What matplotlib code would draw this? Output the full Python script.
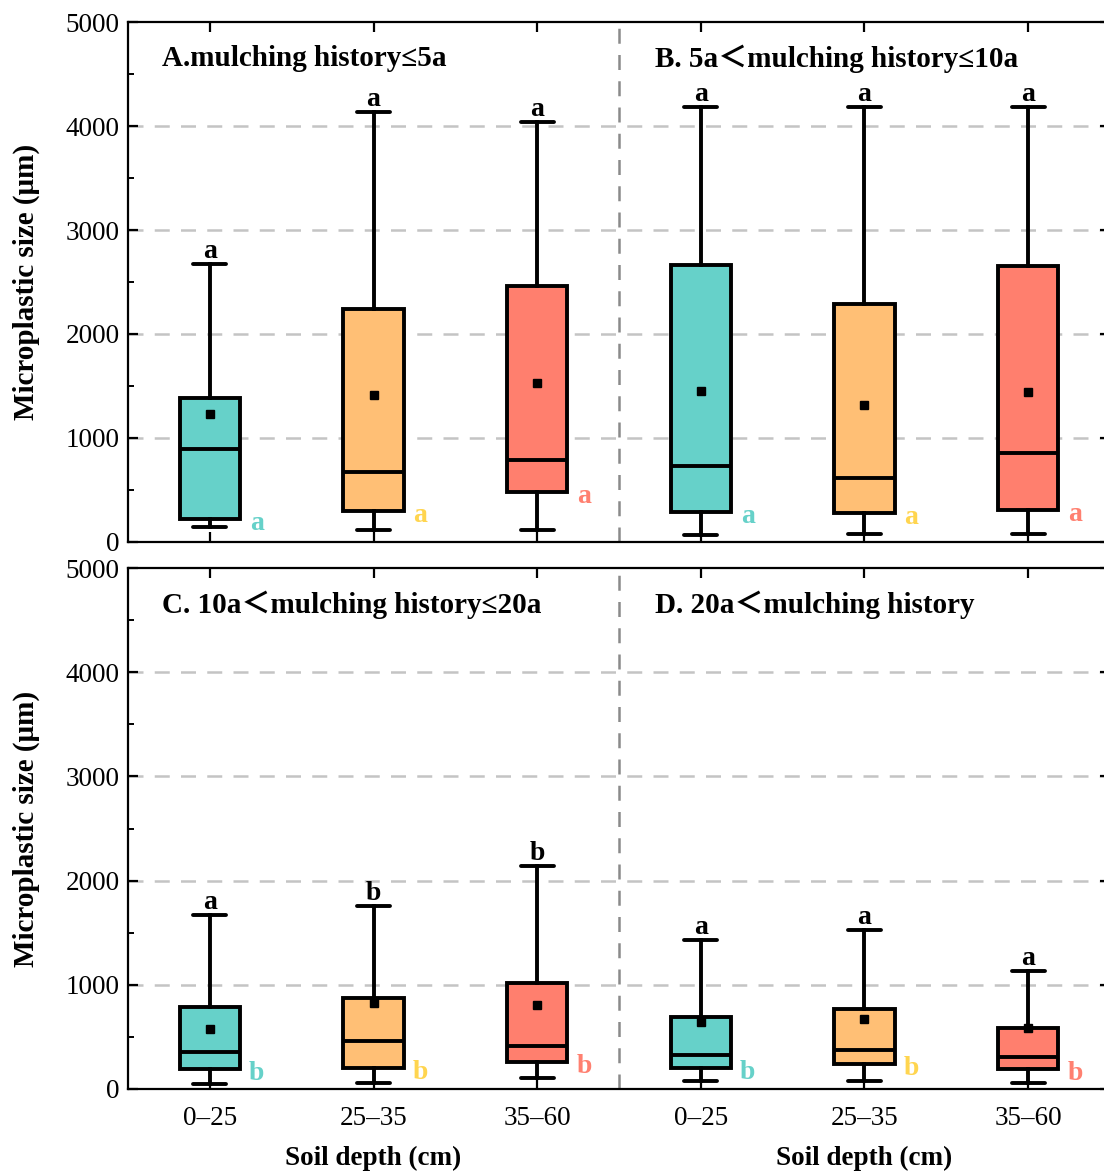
import matplotlib
matplotlib.use("Agg")
import matplotlib.pyplot as plt
from matplotlib.ticker import MultipleLocator

plt.rcParams['font.family'] = ['Liberation Serif', 'Noto Sans CJK SC', 'DejaVu Serif']
plt.rcParams['mathtext.fontset'] = 'stix'

depths = ["0\u201325", "25\u201335", "35\u201360"]
colors = ["#66D1C9", "#FFBF75", "#FF7F6E"]
letter_colors = ["#66D1C9", "#FFD54F", "#FF8070"]

# Panels A & B (top row): six boxes (A: 0-25, 25-35, 35-60; B: same)
top_whislo = [144, 115, 115, 67, 77, 77]
top_q1     = [221, 298, 481, 288, 279, 308]
top_med    = [894, 673, 788, 731, 615, 856]
top_q3     = [1385, 2240, 2462, 2663, 2288, 2654]
top_whishi = [2673, 4135, 4038, 4183, 4183, 4183]
top_mean   = [1231, 1413, 1529, 1452, 1317, 1442]
top_letters_upper = ["a", "a", "a", "a", "a", "a"]
top_letters_side  = ["a", "a", "a", "a", "a", "a"]

# Panels C & D (bottom row)
bot_whislo = [48, 58, 106, 77, 77, 58]
bot_q1     = [192, 202, 259, 202, 240, 192]
bot_med    = [355, 461, 413, 326, 374, 307]
bot_q3     = [787, 873, 1017, 691, 768, 585]
bot_whishi = [1670, 1756, 2140, 1430, 1526, 1132]
bot_mean   = [576, 825, 806, 643, 672, 585]
bot_letters_upper = ["a", "b", "b", "a", "a", "a"]
bot_letters_side  = ["b", "b", "b", "b", "b", "b"]

titles_top = ["A.mulching history\u22645a", "B. 5a\uff1cmulching history\u226410a"]
titles_bot = ["C. 10a\uff1cmulching history\u226420a", "D. 20a\uff1cmulching history"]

fig = plt.figure(figsize=(11.04, 11.71), dpi=100)
W, H = 1104, 1171
AXW = 982
ax_top = fig.add_axes([128 / W, 1 - 542 / H, AXW / W, 520 / H])
ax_bot = fig.add_axes([128 / W, 1 - 1089 / H, AXW / W, 521 / H])

positions = [1, 2, 3, 4, 5, 6]


def draw(ax, wl, q1, med, q3, wh, mean, up, side, titles, show_xlabels):
    stats = []
    for i in range(6):
        stats.append(dict(whislo=wl[i], q1=q1[i], med=med[i], q3=q3[i],
                          whishi=wh[i], mean=mean[i], fliers=[]))
    lw = 2.8
    bp = ax.bxp(stats, positions=positions, widths=0.37, patch_artist=True,
                showmeans=True, showfliers=False, capwidths=0.2,
                boxprops=dict(linewidth=lw, edgecolor='black'),
                whiskerprops=dict(linewidth=lw, color='black'),
                capprops=dict(linewidth=lw, color='black', solid_capstyle='round'),
                medianprops=dict(linewidth=lw, color='black'),
                meanprops=dict(marker='s', markerfacecolor='black',
                               markeredgecolor='black', markersize=6))
    for i, patch in enumerate(bp['boxes']):
        patch.set_facecolor(colors[i % 3])
        patch.set_zorder(3)
    for k in ('whiskers', 'caps', 'medians'):
        for l in bp[k]:
            l.set_zorder(4)
    for l in bp['means']:
        l.set_zorder(5)
    for i in range(6):
        ax.annotate(up[i], (positions[i], wh[i]), xytext=(0, 0),
                    textcoords='offset points', ha='center', va='bottom',
                    fontsize=20, fontweight='bold', color='black')
        ax.annotate(side[i], (positions[i] + 0.185, q1[i]), xytext=(12, -3),
                    textcoords='offset points', ha='center', va='center',
                    fontsize=20, fontweight='bold', color=letter_colors[i % 3])
    ax.set_xlim(0.5, 6.5)
    ax.set_ylim(0, 5000)
    ax.set_yticks([0, 1000, 2000, 3000, 4000, 5000])
    ax.yaxis.set_minor_locator(MultipleLocator(500))
    for y in [1000, 2000, 3000, 4000]:
        ax.axhline(y, color='#C4C4C4', lw=1.8, ls=(0, (6, 4.5)), zorder=1)
    ax.axvline(3.5, color='#8A8A8A', lw=1.8, ls=(0, (6, 4.5)), zorder=1)
    ax.set_xticks(positions)
    if show_xlabels:
        ax.set_xticklabels(depths * 2)
    else:
        ax.set_xticklabels([])
    ax.tick_params(axis='both', which='major', direction='in', length=7,
                   width=1.6, labelsize=19.5, top=True, right=True)
    ax.tick_params(axis='y', which='minor', direction='in', length=4,
                   width=1.4, right=True)
    ax.tick_params(axis='x', which='major', pad=12)
    ax.tick_params(axis='y', which='major', pad=6)
    for s in ax.spines.values():
        s.set_linewidth(1.6)
    ax.set_ylabel("Microplastic size (\u03bcm)", fontsize=21, fontweight='bold')
    ax.yaxis.set_label_coords((40 - 128) / AXW, 0.5)
    ax.text((162 - 128) / AXW, 1 - 37 / 520, titles[0], transform=ax.transAxes,
            fontsize=21, fontweight='bold', ha='left', va='center')
    ax.text((655 - 128) / AXW, 1 - 37 / 520, titles[1], transform=ax.transAxes,
            fontsize=21, fontweight='bold', ha='left', va='center')


draw(ax_top, top_whislo, top_q1, top_med, top_q3, top_whishi, top_mean,
     top_letters_upper, top_letters_side, titles_top, False)
draw(ax_bot, bot_whislo, bot_q1, bot_med, bot_q3, bot_whishi, bot_mean,
     bot_letters_upper, bot_letters_side, titles_bot, True)

for xc in (2, 5):
    ax_bot.annotate("Soil depth (cm)", (xc, 0), xycoords='data',
                    xytext=(0, -69 * 0.72), textcoords='offset points',
                    fontsize=19.5, fontweight='bold', ha='center', va='center',
                    annotation_clip=False)

fig.savefig("out.png", dpi=100)
